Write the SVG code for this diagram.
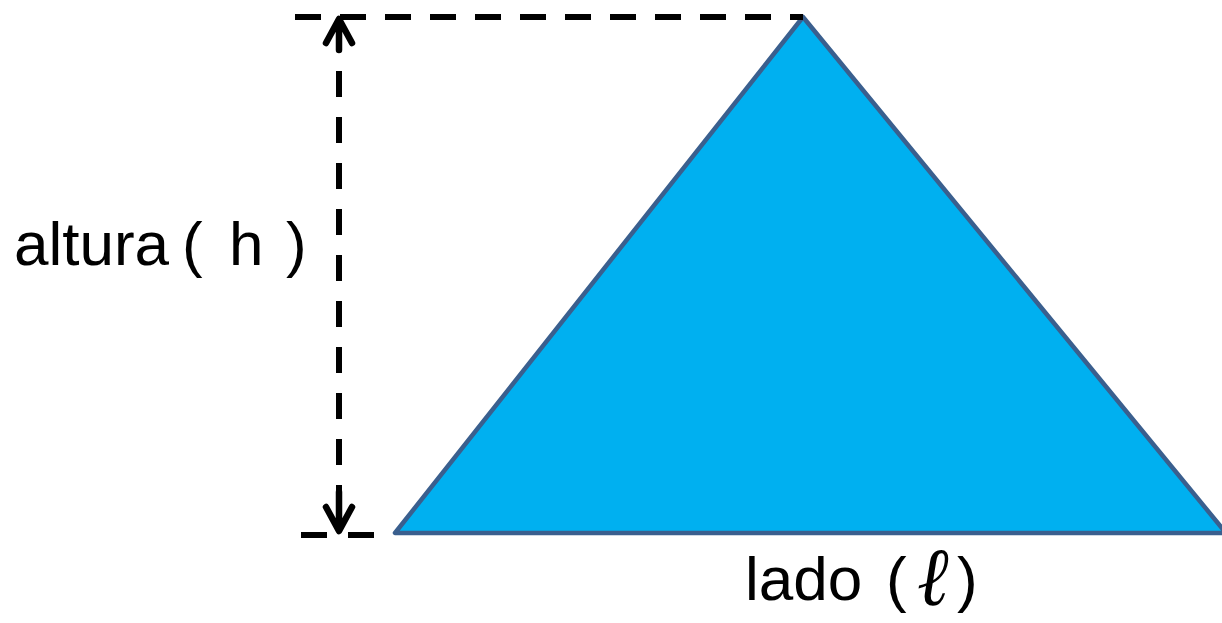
<svg xmlns="http://www.w3.org/2000/svg" width="1222" height="623" viewBox="0 0 1222 623">
<style>
  .dash { fill: none; stroke: #000; stroke-width: 6; stroke-dasharray: 26 19; }
  .solid { fill: none; stroke: #000; stroke-width: 6.5; stroke-linecap: round; stroke-linejoin: round; }
  .lbl { font-family: "Liberation Sans", Arial, sans-serif; font-size: 62px; fill: #000; }
  .ell { font-family: "Liberation Serif", "Times New Roman", serif; font-style: italic; font-size: 66px; fill: #000; }
</style>
<rect width="1222" height="623" fill="#fff"/>
<g id="triangle">
  <polygon points="803,17 395,533 1226,533" fill="#00B0F0" stroke="#3A5F8E" stroke-width="4.5" stroke-linejoin="round"/>
</g>
<g id="connectors">
  <line class="dash" x1="295" y1="17" x2="803" y2="17"/>
  <line class="dash" x1="301" y1="535" x2="375" y2="535" style="stroke-dasharray:26 21"/>
  <line class="dash" x1="339" y1="71" x2="339" y2="492" style="stroke-dasharray:26 20"/>
  <path class="solid" d="M339,20 L339,50 M326,43 L339,19 L352,43"/>
  <path class="solid" d="M339,492 L339,530 M326,507 L339,531 L352,507"/>
</g>
<g id="label-altura">
  <text class="lbl" y="265"><tspan x="14">altura</tspan><tspan x="182">(</tspan><tspan x="229">h</tspan><tspan x="286">)</tspan></text>
</g>
<g id="label-lado">
  <text class="lbl" y="600"><tspan x="745">lado</tspan><tspan x="886">(</tspan><tspan x="957">)</tspan></text>
  <text class="ell" transform="translate(917,605) scale(1.15,1.25)">ℓ</text>
</g>
</svg>
